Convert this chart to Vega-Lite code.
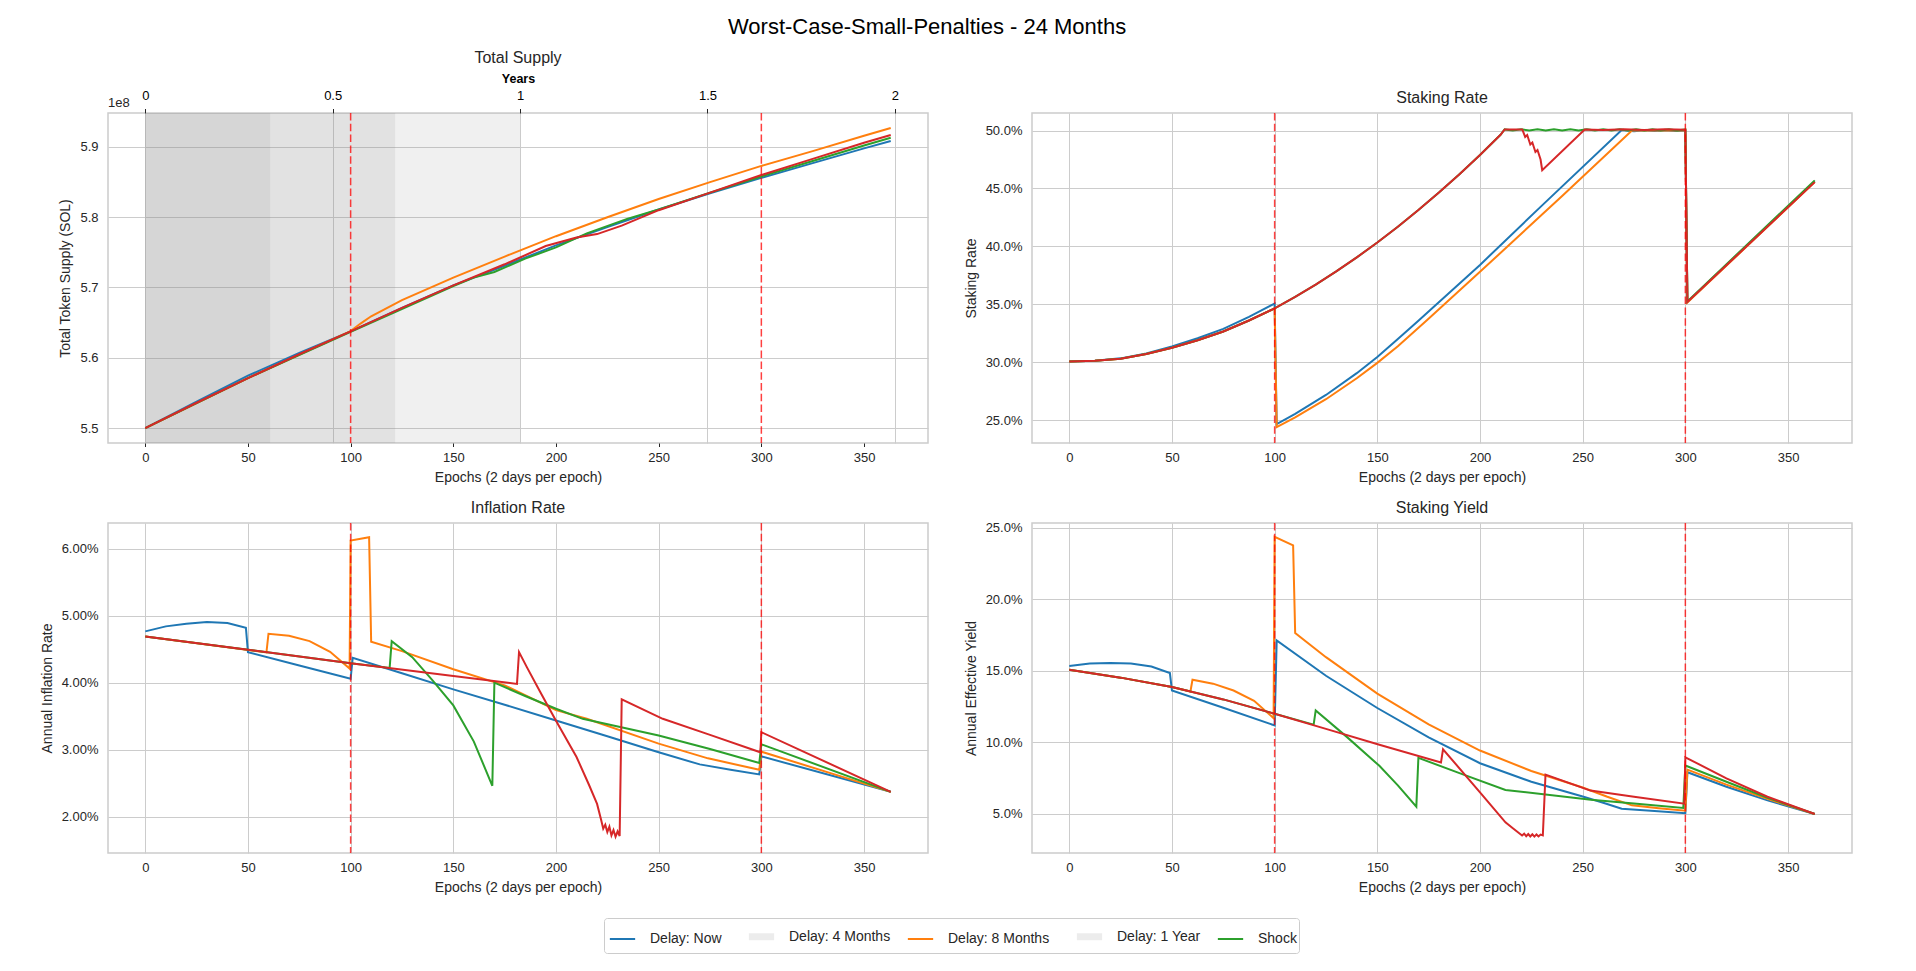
{
  "$schema": "https://vega.github.io/schema/vega-lite/v6.json",
  "background": "white",
  "padding": {"left": 39, "top": 16, "right": 10, "bottom": 10},
  "title": {
    "text": "Worst-Case-Small-Penalties - 24 Months",
    "fontSize": 22,
    "fontWeight": "normal",
    "color": "#000000",
    "anchor": "middle",
    "offset": 10,
    "dx": -19
  },
  "config": {
    "font": "Liberation Sans",
    "view": {"stroke": "#cccccc", "strokeWidth": 1.5},
    "line": {"strokeWidth": 2},
    "axis": {
      "domain": false,
      "grid": true,
      "gridColor": "#cccccc",
      "gridWidth": 1,
      "ticks": false,
      "tickSize": 0,
      "labelFontSize": 13,
      "labelColor": "#262626",
      "titleFontSize": 14,
      "titleFontWeight": "normal",
      "titleColor": "#262626"
    },
    "axisX": {"labelPadding": 8, "titlePadding": 6},
    "axisY": {"labelPadding": 10, "titlePadding": 7},
    "title": {"fontSize": 16, "fontWeight": "normal", "color": "#262626", "offset": 6}
  },
  "datasets": {
    "spans": [
      {"start": 0, "end": 0.3333},
      {"start": 0, "end": 0.6667},
      {"start": 0, "end": 1}
    ],
    "shocks": [{"e": 100}, {"e": 300}],
    "supply": [
      {"s": "Delay: Now", "e": 0, "v": 550000000},
      {"s": "Delay: Now", "e": 25, "v": 553750000},
      {"s": "Delay: Now", "e": 50, "v": 557450000},
      {"s": "Delay: Now", "e": 75, "v": 560700000},
      {"s": "Delay: Now", "e": 100, "v": 563750000},
      {"s": "Delay: Now", "e": 125, "v": 567100000},
      {"s": "Delay: Now", "e": 150, "v": 570300000},
      {"s": "Delay: Now", "e": 175, "v": 573100000},
      {"s": "Delay: Now", "e": 200, "v": 576000000},
      {"s": "Delay: Now", "e": 225, "v": 578600000},
      {"s": "Delay: Now", "e": 250, "v": 581100000},
      {"s": "Delay: Now", "e": 275, "v": 583400000},
      {"s": "Delay: Now", "e": 300, "v": 585600000},
      {"s": "Delay: Now", "e": 325, "v": 587700000},
      {"s": "Delay: Now", "e": 350, "v": 589800000},
      {"s": "Delay: Now", "e": 363, "v": 590850000},
      {"s": "Delay: 8 Months", "e": 0, "v": 550000000},
      {"s": "Delay: 8 Months", "e": 50, "v": 557100000},
      {"s": "Delay: 8 Months", "e": 100, "v": 563800000},
      {"s": "Delay: 8 Months", "e": 105, "v": 564900000},
      {"s": "Delay: 8 Months", "e": 110, "v": 565900000},
      {"s": "Delay: 8 Months", "e": 125, "v": 568200000},
      {"s": "Delay: 8 Months", "e": 150, "v": 571400000},
      {"s": "Delay: 8 Months", "e": 175, "v": 574400000},
      {"s": "Delay: 8 Months", "e": 200, "v": 577300000},
      {"s": "Delay: 8 Months", "e": 225, "v": 580000000},
      {"s": "Delay: 8 Months", "e": 250, "v": 582600000},
      {"s": "Delay: 8 Months", "e": 275, "v": 585000000},
      {"s": "Delay: 8 Months", "e": 300, "v": 587300000},
      {"s": "Delay: 8 Months", "e": 325, "v": 589400000},
      {"s": "Delay: 8 Months", "e": 350, "v": 591600000},
      {"s": "Delay: 8 Months", "e": 363, "v": 592700000},
      {"s": "Shock", "e": 0, "v": 550000000},
      {"s": "Shock", "e": 50, "v": 557100000},
      {"s": "Shock", "e": 100, "v": 563700000},
      {"s": "Shock", "e": 120, "v": 566300000},
      {"s": "Shock", "e": 150, "v": 570200000},
      {"s": "Shock", "e": 160, "v": 571400000},
      {"s": "Shock", "e": 170, "v": 572200000},
      {"s": "Shock", "e": 185, "v": 574100000},
      {"s": "Shock", "e": 200, "v": 575700000},
      {"s": "Shock", "e": 215, "v": 577700000},
      {"s": "Shock", "e": 235, "v": 579800000},
      {"s": "Shock", "e": 250, "v": 581100000},
      {"s": "Shock", "e": 275, "v": 583500000},
      {"s": "Shock", "e": 300, "v": 585800000},
      {"s": "Shock", "e": 325, "v": 588000000},
      {"s": "Shock", "e": 350, "v": 590200000},
      {"s": "Shock", "e": 363, "v": 591300000},
      {"s": "Unlabelled", "e": 0, "v": 550000000},
      {"s": "Unlabelled", "e": 25, "v": 553600000},
      {"s": "Unlabelled", "e": 50, "v": 557100000},
      {"s": "Unlabelled", "e": 75, "v": 560500000},
      {"s": "Unlabelled", "e": 100, "v": 563750000},
      {"s": "Unlabelled", "e": 125, "v": 567100000},
      {"s": "Unlabelled", "e": 150, "v": 570300000},
      {"s": "Unlabelled", "e": 175, "v": 573300000},
      {"s": "Unlabelled", "e": 182, "v": 574200000},
      {"s": "Unlabelled", "e": 195, "v": 575900000},
      {"s": "Unlabelled", "e": 210, "v": 577100000},
      {"s": "Unlabelled", "e": 220, "v": 577600000},
      {"s": "Unlabelled", "e": 232, "v": 578800000},
      {"s": "Unlabelled", "e": 250, "v": 581000000},
      {"s": "Unlabelled", "e": 275, "v": 583500000},
      {"s": "Unlabelled", "e": 300, "v": 586000000},
      {"s": "Unlabelled", "e": 325, "v": 588300000},
      {"s": "Unlabelled", "e": 350, "v": 590600000},
      {"s": "Unlabelled", "e": 363, "v": 591700000}
    ],
    "stake": [
      {"s": "Delay: Now", "e": 0, "v": 0.3006},
      {"s": "Delay: Now", "e": 12.5, "v": 0.3013},
      {"s": "Delay: Now", "e": 25, "v": 0.3033},
      {"s": "Delay: Now", "e": 37.5, "v": 0.3076},
      {"s": "Delay: Now", "e": 50, "v": 0.3136},
      {"s": "Delay: Now", "e": 62.5, "v": 0.3207},
      {"s": "Delay: Now", "e": 75, "v": 0.3288},
      {"s": "Delay: Now", "e": 87.5, "v": 0.3392},
      {"s": "Delay: Now", "e": 100, "v": 0.3506},
      {"s": "Delay: Now", "e": 101, "v": 0.2466},
      {"s": "Delay: Now", "e": 110, "v": 0.2553},
      {"s": "Delay: Now", "e": 125, "v": 0.2717},
      {"s": "Delay: Now", "e": 140, "v": 0.2905},
      {"s": "Delay: Now", "e": 150, "v": 0.3045},
      {"s": "Delay: Now", "e": 160, "v": 0.32},
      {"s": "Delay: Now", "e": 170, "v": 0.3357},
      {"s": "Delay: Now", "e": 200, "v": 0.384},
      {"s": "Delay: Now", "e": 230, "v": 0.435},
      {"s": "Delay: Now", "e": 269, "v": 0.5005},
      {"s": "Delay: Now", "e": 275, "v": 0.4995},
      {"s": "Delay: Now", "e": 280, "v": 0.5003},
      {"s": "Delay: Now", "e": 285, "v": 0.4996},
      {"s": "Delay: Now", "e": 290, "v": 0.5003},
      {"s": "Delay: Now", "e": 295, "v": 0.4996},
      {"s": "Delay: Now", "e": 300, "v": 0.5},
      {"s": "Delay: Now", "e": 301, "v": 0.352},
      {"s": "Delay: Now", "e": 363, "v": 0.456},
      {"s": "Delay: 8 Months", "e": 0, "v": 0.3006},
      {"s": "Delay: 8 Months", "e": 12.5, "v": 0.3012},
      {"s": "Delay: 8 Months", "e": 25, "v": 0.303},
      {"s": "Delay: 8 Months", "e": 37.5, "v": 0.307},
      {"s": "Delay: 8 Months", "e": 50, "v": 0.3125},
      {"s": "Delay: 8 Months", "e": 62.5, "v": 0.319},
      {"s": "Delay: 8 Months", "e": 75, "v": 0.3265},
      {"s": "Delay: 8 Months", "e": 87.5, "v": 0.336},
      {"s": "Delay: 8 Months", "e": 100, "v": 0.3465},
      {"s": "Delay: 8 Months", "e": 101, "v": 0.244},
      {"s": "Delay: 8 Months", "e": 110, "v": 0.2523},
      {"s": "Delay: 8 Months", "e": 125, "v": 0.268},
      {"s": "Delay: 8 Months", "e": 140, "v": 0.2861},
      {"s": "Delay: 8 Months", "e": 150, "v": 0.2994},
      {"s": "Delay: 8 Months", "e": 160, "v": 0.3138},
      {"s": "Delay: 8 Months", "e": 174, "v": 0.336},
      {"s": "Delay: 8 Months", "e": 200, "v": 0.378},
      {"s": "Delay: 8 Months", "e": 240, "v": 0.4435},
      {"s": "Delay: 8 Months", "e": 274, "v": 0.5},
      {"s": "Delay: 8 Months", "e": 300, "v": 0.5},
      {"s": "Delay: 8 Months", "e": 301, "v": 0.3515},
      {"s": "Delay: 8 Months", "e": 363, "v": 0.4555},
      {"s": "Shock", "e": 0, "v": 0.3006},
      {"s": "Shock", "e": 12.5, "v": 0.3012},
      {"s": "Shock", "e": 25, "v": 0.303},
      {"s": "Shock", "e": 37.5, "v": 0.307},
      {"s": "Shock", "e": 50, "v": 0.3125},
      {"s": "Shock", "e": 62.5, "v": 0.319},
      {"s": "Shock", "e": 75, "v": 0.3265},
      {"s": "Shock", "e": 87.5, "v": 0.336},
      {"s": "Shock", "e": 100, "v": 0.3465},
      {"s": "Shock", "e": 110, "v": 0.3564},
      {"s": "Shock", "e": 120, "v": 0.367},
      {"s": "Shock", "e": 130, "v": 0.3784},
      {"s": "Shock", "e": 140, "v": 0.3905},
      {"s": "Shock", "e": 150, "v": 0.4034},
      {"s": "Shock", "e": 160, "v": 0.417},
      {"s": "Shock", "e": 170, "v": 0.4314},
      {"s": "Shock", "e": 180, "v": 0.4465},
      {"s": "Shock", "e": 190, "v": 0.4624},
      {"s": "Shock", "e": 200, "v": 0.479},
      {"s": "Shock", "e": 210, "v": 0.4964},
      {"s": "Shock", "e": 212, "v": 0.501},
      {"s": "Shock", "e": 216, "v": 0.5},
      {"s": "Shock", "e": 220, "v": 0.5012},
      {"s": "Shock", "e": 224, "v": 0.5},
      {"s": "Shock", "e": 228, "v": 0.5012},
      {"s": "Shock", "e": 232, "v": 0.5},
      {"s": "Shock", "e": 236, "v": 0.5012},
      {"s": "Shock", "e": 240, "v": 0.5},
      {"s": "Shock", "e": 244, "v": 0.5012},
      {"s": "Shock", "e": 248, "v": 0.5},
      {"s": "Shock", "e": 252, "v": 0.5012},
      {"s": "Shock", "e": 256, "v": 0.5},
      {"s": "Shock", "e": 260, "v": 0.5012},
      {"s": "Shock", "e": 264, "v": 0.5},
      {"s": "Shock", "e": 268, "v": 0.5012},
      {"s": "Shock", "e": 272, "v": 0.5},
      {"s": "Shock", "e": 276, "v": 0.5012},
      {"s": "Shock", "e": 280, "v": 0.5},
      {"s": "Shock", "e": 284, "v": 0.5012},
      {"s": "Shock", "e": 288, "v": 0.5},
      {"s": "Shock", "e": 292, "v": 0.5012},
      {"s": "Shock", "e": 296, "v": 0.5},
      {"s": "Shock", "e": 300, "v": 0.501},
      {"s": "Shock", "e": 301, "v": 0.3525},
      {"s": "Shock", "e": 363, "v": 0.457},
      {"s": "Unlabelled", "e": 0, "v": 0.3006},
      {"s": "Unlabelled", "e": 12.5, "v": 0.3012},
      {"s": "Unlabelled", "e": 25, "v": 0.303},
      {"s": "Unlabelled", "e": 37.5, "v": 0.307},
      {"s": "Unlabelled", "e": 50, "v": 0.3125},
      {"s": "Unlabelled", "e": 62.5, "v": 0.319},
      {"s": "Unlabelled", "e": 75, "v": 0.3265},
      {"s": "Unlabelled", "e": 87.5, "v": 0.336},
      {"s": "Unlabelled", "e": 100, "v": 0.3465},
      {"s": "Unlabelled", "e": 110, "v": 0.3564},
      {"s": "Unlabelled", "e": 120, "v": 0.367},
      {"s": "Unlabelled", "e": 130, "v": 0.3784},
      {"s": "Unlabelled", "e": 140, "v": 0.3905},
      {"s": "Unlabelled", "e": 150, "v": 0.4034},
      {"s": "Unlabelled", "e": 160, "v": 0.417},
      {"s": "Unlabelled", "e": 170, "v": 0.4314},
      {"s": "Unlabelled", "e": 180, "v": 0.4465},
      {"s": "Unlabelled", "e": 190, "v": 0.4624},
      {"s": "Unlabelled", "e": 200, "v": 0.479},
      {"s": "Unlabelled", "e": 210, "v": 0.4964},
      {"s": "Unlabelled", "e": 212, "v": 0.501},
      {"s": "Unlabelled", "e": 220.6, "v": 0.501},
      {"s": "Unlabelled", "e": 222, "v": 0.4945},
      {"s": "Unlabelled", "e": 223, "v": 0.4962},
      {"s": "Unlabelled", "e": 224.5, "v": 0.488},
      {"s": "Unlabelled", "e": 225.5, "v": 0.4897},
      {"s": "Unlabelled", "e": 227, "v": 0.4815},
      {"s": "Unlabelled", "e": 228, "v": 0.4832},
      {"s": "Unlabelled", "e": 229.5, "v": 0.475},
      {"s": "Unlabelled", "e": 230.3, "v": 0.4658},
      {"s": "Unlabelled", "e": 251, "v": 0.501},
      {"s": "Unlabelled", "e": 260, "v": 0.5005},
      {"s": "Unlabelled", "e": 270, "v": 0.5012},
      {"s": "Unlabelled", "e": 280, "v": 0.5005},
      {"s": "Unlabelled", "e": 290, "v": 0.5012},
      {"s": "Unlabelled", "e": 300, "v": 0.5008},
      {"s": "Unlabelled", "e": 301, "v": 0.352},
      {"s": "Unlabelled", "e": 363, "v": 0.4555}
    ],
    "infl": [
      {"s": "Delay: Now", "e": 0, "v": 0.04765},
      {"s": "Delay: Now", "e": 10, "v": 0.0484},
      {"s": "Delay: Now", "e": 20, "v": 0.0488},
      {"s": "Delay: Now", "e": 30, "v": 0.04905},
      {"s": "Delay: Now", "e": 40, "v": 0.0489},
      {"s": "Delay: Now", "e": 49, "v": 0.0482},
      {"s": "Delay: Now", "e": 50, "v": 0.04456},
      {"s": "Delay: Now", "e": 75, "v": 0.04256},
      {"s": "Delay: Now", "e": 100, "v": 0.04057},
      {"s": "Delay: Now", "e": 101, "v": 0.0437},
      {"s": "Delay: Now", "e": 125, "v": 0.0414},
      {"s": "Delay: Now", "e": 150, "v": 0.039},
      {"s": "Delay: Now", "e": 175, "v": 0.0367},
      {"s": "Delay: Now", "e": 200, "v": 0.03435},
      {"s": "Delay: Now", "e": 225, "v": 0.032},
      {"s": "Delay: Now", "e": 250, "v": 0.0296},
      {"s": "Delay: Now", "e": 270, "v": 0.0278},
      {"s": "Delay: Now", "e": 285, "v": 0.027},
      {"s": "Delay: Now", "e": 299, "v": 0.0263},
      {"s": "Delay: Now", "e": 300, "v": 0.029},
      {"s": "Delay: Now", "e": 363, "v": 0.0237},
      {"s": "Delay: 8 Months", "e": 0, "v": 0.0469},
      {"s": "Delay: 8 Months", "e": 59, "v": 0.0445},
      {"s": "Delay: 8 Months", "e": 60, "v": 0.0473},
      {"s": "Delay: 8 Months", "e": 70, "v": 0.047},
      {"s": "Delay: 8 Months", "e": 80, "v": 0.0462},
      {"s": "Delay: 8 Months", "e": 90, "v": 0.0446},
      {"s": "Delay: 8 Months", "e": 99.5, "v": 0.0421},
      {"s": "Delay: 8 Months", "e": 100, "v": 0.0612},
      {"s": "Delay: 8 Months", "e": 109, "v": 0.0617},
      {"s": "Delay: 8 Months", "e": 110, "v": 0.0461},
      {"s": "Delay: 8 Months", "e": 125, "v": 0.0447},
      {"s": "Delay: 8 Months", "e": 150, "v": 0.042},
      {"s": "Delay: 8 Months", "e": 175, "v": 0.0396},
      {"s": "Delay: 8 Months", "e": 200, "v": 0.0359},
      {"s": "Delay: 8 Months", "e": 215, "v": 0.0346},
      {"s": "Delay: 8 Months", "e": 250, "v": 0.0309},
      {"s": "Delay: 8 Months", "e": 274, "v": 0.0287},
      {"s": "Delay: 8 Months", "e": 299, "v": 0.027},
      {"s": "Delay: 8 Months", "e": 300, "v": 0.0297},
      {"s": "Delay: 8 Months", "e": 363, "v": 0.0237},
      {"s": "Shock", "e": 0, "v": 0.0469},
      {"s": "Shock", "e": 50, "v": 0.0449},
      {"s": "Shock", "e": 100, "v": 0.0429},
      {"s": "Shock", "e": 119, "v": 0.0422},
      {"s": "Shock", "e": 120, "v": 0.0462},
      {"s": "Shock", "e": 130, "v": 0.0438},
      {"s": "Shock", "e": 140, "v": 0.0403},
      {"s": "Shock", "e": 150, "v": 0.0366},
      {"s": "Shock", "e": 160, "v": 0.0312},
      {"s": "Shock", "e": 169, "v": 0.0246},
      {"s": "Shock", "e": 170, "v": 0.04},
      {"s": "Shock", "e": 185, "v": 0.038},
      {"s": "Shock", "e": 200, "v": 0.0361},
      {"s": "Shock", "e": 213, "v": 0.0346},
      {"s": "Shock", "e": 250, "v": 0.0321},
      {"s": "Shock", "e": 275, "v": 0.0301},
      {"s": "Shock", "e": 299, "v": 0.028},
      {"s": "Shock", "e": 300, "v": 0.0308},
      {"s": "Shock", "e": 363, "v": 0.0237},
      {"s": "Unlabelled", "e": 0, "v": 0.0469},
      {"s": "Unlabelled", "e": 50, "v": 0.0449},
      {"s": "Unlabelled", "e": 100, "v": 0.0429},
      {"s": "Unlabelled", "e": 150, "v": 0.041},
      {"s": "Unlabelled", "e": 181, "v": 0.0398},
      {"s": "Unlabelled", "e": 182, "v": 0.04456},
      {"s": "Unlabelled", "e": 186, "v": 0.0422},
      {"s": "Unlabelled", "e": 192, "v": 0.0388},
      {"s": "Unlabelled", "e": 200, "v": 0.0343},
      {"s": "Unlabelled", "e": 210, "v": 0.0289},
      {"s": "Unlabelled", "e": 216, "v": 0.0248},
      {"s": "Unlabelled", "e": 220, "v": 0.0219},
      {"s": "Unlabelled", "e": 222, "v": 0.0195},
      {"s": "Unlabelled", "e": 223, "v": 0.0182},
      {"s": "Unlabelled", "e": 224, "v": 0.0188},
      {"s": "Unlabelled", "e": 225, "v": 0.0177},
      {"s": "Unlabelled", "e": 226, "v": 0.0185},
      {"s": "Unlabelled", "e": 227, "v": 0.0172},
      {"s": "Unlabelled", "e": 228, "v": 0.018},
      {"s": "Unlabelled", "e": 229, "v": 0.017},
      {"s": "Unlabelled", "e": 230, "v": 0.0178},
      {"s": "Unlabelled", "e": 231, "v": 0.0171},
      {"s": "Unlabelled", "e": 232, "v": 0.0375},
      {"s": "Unlabelled", "e": 252, "v": 0.0346},
      {"s": "Unlabelled", "e": 275, "v": 0.0322},
      {"s": "Unlabelled", "e": 299.5, "v": 0.0296},
      {"s": "Unlabelled", "e": 300, "v": 0.0326},
      {"s": "Unlabelled", "e": 363, "v": 0.0237}
    ],
    "yld": [
      {"s": "Delay: Now", "e": 0, "v": 0.1533},
      {"s": "Delay: Now", "e": 10, "v": 0.155},
      {"s": "Delay: Now", "e": 20, "v": 0.1555},
      {"s": "Delay: Now", "e": 30, "v": 0.155},
      {"s": "Delay: Now", "e": 40, "v": 0.153},
      {"s": "Delay: Now", "e": 49, "v": 0.1484},
      {"s": "Delay: Now", "e": 50, "v": 0.1362},
      {"s": "Delay: Now", "e": 75, "v": 0.1242},
      {"s": "Delay: Now", "e": 100, "v": 0.1118},
      {"s": "Delay: Now", "e": 101, "v": 0.1712},
      {"s": "Delay: Now", "e": 125, "v": 0.1465},
      {"s": "Delay: Now", "e": 150, "v": 0.124},
      {"s": "Delay: Now", "e": 175, "v": 0.1035},
      {"s": "Delay: Now", "e": 200, "v": 0.0854},
      {"s": "Delay: Now", "e": 225, "v": 0.0725},
      {"s": "Delay: Now", "e": 250, "v": 0.0622},
      {"s": "Delay: Now", "e": 260, "v": 0.0578},
      {"s": "Delay: Now", "e": 269, "v": 0.0537},
      {"s": "Delay: Now", "e": 285, "v": 0.052},
      {"s": "Delay: Now", "e": 300, "v": 0.0505},
      {"s": "Delay: Now", "e": 301, "v": 0.0791},
      {"s": "Delay: Now", "e": 320, "v": 0.069},
      {"s": "Delay: Now", "e": 340, "v": 0.0595},
      {"s": "Delay: Now", "e": 363, "v": 0.05},
      {"s": "Delay: 8 Months", "e": 0, "v": 0.1507},
      {"s": "Delay: 8 Months", "e": 25, "v": 0.1452},
      {"s": "Delay: 8 Months", "e": 50, "v": 0.1386},
      {"s": "Delay: 8 Months", "e": 59, "v": 0.1355},
      {"s": "Delay: 8 Months", "e": 60, "v": 0.1437},
      {"s": "Delay: 8 Months", "e": 70, "v": 0.141},
      {"s": "Delay: 8 Months", "e": 80, "v": 0.1362},
      {"s": "Delay: 8 Months", "e": 90, "v": 0.129},
      {"s": "Delay: 8 Months", "e": 99.5, "v": 0.1169},
      {"s": "Delay: 8 Months", "e": 100, "v": 0.2435},
      {"s": "Delay: 8 Months", "e": 109, "v": 0.2376},
      {"s": "Delay: 8 Months", "e": 110, "v": 0.1763},
      {"s": "Delay: 8 Months", "e": 125, "v": 0.1595},
      {"s": "Delay: 8 Months", "e": 150, "v": 0.134},
      {"s": "Delay: 8 Months", "e": 175, "v": 0.1125},
      {"s": "Delay: 8 Months", "e": 200, "v": 0.0943},
      {"s": "Delay: 8 Months", "e": 225, "v": 0.08},
      {"s": "Delay: 8 Months", "e": 250, "v": 0.0685},
      {"s": "Delay: 8 Months", "e": 262, "v": 0.062},
      {"s": "Delay: 8 Months", "e": 274, "v": 0.056},
      {"s": "Delay: 8 Months", "e": 287, "v": 0.054},
      {"s": "Delay: 8 Months", "e": 300, "v": 0.0523},
      {"s": "Delay: 8 Months", "e": 301, "v": 0.081},
      {"s": "Delay: 8 Months", "e": 320, "v": 0.0705},
      {"s": "Delay: 8 Months", "e": 340, "v": 0.0605},
      {"s": "Delay: 8 Months", "e": 363, "v": 0.05},
      {"s": "Shock", "e": 0, "v": 0.1507},
      {"s": "Shock", "e": 25, "v": 0.1452},
      {"s": "Shock", "e": 50, "v": 0.1386},
      {"s": "Shock", "e": 75, "v": 0.13},
      {"s": "Shock", "e": 100, "v": 0.12},
      {"s": "Shock", "e": 119, "v": 0.1124},
      {"s": "Shock", "e": 120, "v": 0.1223},
      {"s": "Shock", "e": 135, "v": 0.104},
      {"s": "Shock", "e": 151, "v": 0.0836},
      {"s": "Shock", "e": 160, "v": 0.07},
      {"s": "Shock", "e": 169, "v": 0.0551},
      {"s": "Shock", "e": 170, "v": 0.0892},
      {"s": "Shock", "e": 190, "v": 0.0785},
      {"s": "Shock", "e": 212.4, "v": 0.0668},
      {"s": "Shock", "e": 254, "v": 0.06},
      {"s": "Shock", "e": 275, "v": 0.0573},
      {"s": "Shock", "e": 299, "v": 0.0542},
      {"s": "Shock", "e": 300, "v": 0.0838},
      {"s": "Shock", "e": 320, "v": 0.0725},
      {"s": "Shock", "e": 340, "v": 0.0613},
      {"s": "Shock", "e": 363, "v": 0.05},
      {"s": "Unlabelled", "e": 0, "v": 0.1507},
      {"s": "Unlabelled", "e": 25, "v": 0.1452},
      {"s": "Unlabelled", "e": 50, "v": 0.1386},
      {"s": "Unlabelled", "e": 75, "v": 0.13},
      {"s": "Unlabelled", "e": 100, "v": 0.12},
      {"s": "Unlabelled", "e": 125, "v": 0.1094},
      {"s": "Unlabelled", "e": 151, "v": 0.0983},
      {"s": "Unlabelled", "e": 181, "v": 0.0859},
      {"s": "Unlabelled", "e": 182, "v": 0.0952},
      {"s": "Unlabelled", "e": 200, "v": 0.0651},
      {"s": "Unlabelled", "e": 212.4, "v": 0.0441},
      {"s": "Unlabelled", "e": 216, "v": 0.04},
      {"s": "Unlabelled", "e": 220.5, "v": 0.035},
      {"s": "Unlabelled", "e": 221.5, "v": 0.0362},
      {"s": "Unlabelled", "e": 222.5, "v": 0.0345},
      {"s": "Unlabelled", "e": 223.5, "v": 0.036},
      {"s": "Unlabelled", "e": 224.5, "v": 0.0343},
      {"s": "Unlabelled", "e": 225.5, "v": 0.0358},
      {"s": "Unlabelled", "e": 226.5, "v": 0.0342},
      {"s": "Unlabelled", "e": 227.5, "v": 0.0357},
      {"s": "Unlabelled", "e": 228.5, "v": 0.0343},
      {"s": "Unlabelled", "e": 229.5, "v": 0.0356},
      {"s": "Unlabelled", "e": 230.6, "v": 0.035},
      {"s": "Unlabelled", "e": 231.9, "v": 0.0775},
      {"s": "Unlabelled", "e": 253.8, "v": 0.0663},
      {"s": "Unlabelled", "e": 275, "v": 0.062},
      {"s": "Unlabelled", "e": 299.5, "v": 0.0572},
      {"s": "Unlabelled", "e": 300, "v": 0.0896},
      {"s": "Unlabelled", "e": 320, "v": 0.0748},
      {"s": "Unlabelled", "e": 340, "v": 0.062},
      {"s": "Unlabelled", "e": 363, "v": 0.05}
    ]
  },
  "columns": 2,
  "spacing": {"row": 80, "column": 104},
  "bounds": "flush",
  "concat": [
    {
      "width": 820,
      "height": 330,
      "title": "Total Supply",
      "resolve": {"scale": {"x": "independent"}, "axis": {"x": "independent"}},
      "layer": [
        {
          "data": {"name": "spans"},
          "mark": {"type": "rect", "color": "#808080", "opacity": 0.118},
          "encoding": {
            "x": {
              "field": "start",
              "type": "quantitative",
              "scale": {"domain": [-0.09945, 2.08849], "nice": false, "zero": false},
              "axis": {
                "orient": "top",
                "title": "Years",
                "values": [0, 0.5, 1, 1.5, 2],
                "format": "~g",
                "ticks": true,
                "tickSize": 4.5,
                "tickColor": "#262626",
                "labelColor": "#000000",
                "labelPadding": 6,
                "titleFontWeight": "bold",
                "titleFontSize": 12.5,
                "titleColor": "#000000",
                "titlePadding": 4.5
              }
            },
            "x2": {"field": "end"},
            "y": {"datum": 547870000, "type": "quantitative"},
            "y2": {"datum": 594830000}
          }
        },
        {
          "data": {"name": "supply"},
          "mark": "line",
          "encoding": {
            "x": {
              "field": "e",
              "type": "quantitative",
              "scale": {"domain": [-18.15, 381.15], "nice": false, "zero": false},
              "axis": {
                "title": "Epochs (2 days per epoch)",
                "values": [0, 50, 100, 150, 200, 250, 300, 350],
                "ticks": true,
                "tickSize": 3.5,
                "tickColor": "#262626",
                "labelPadding": 5
              }
            },
            "y": {
              "field": "v",
              "type": "quantitative",
              "scale": {"domain": [547870000, 594830000], "nice": false, "zero": false},
              "axis": {
                "title": "Total Token Supply (SOL)",
                "values": [550000000, 560000000, 570000000, 580000000, 590000000],
                "labelExpr": "format(datum.value / 100000000, '.1f')"
              }
            },
            "color": {
              "field": "s",
              "type": "nominal",
              "scale": {
                "domain": ["Delay: Now", "Delay: 4 Months", "Delay: 8 Months", "Delay: 1 Year", "Shock", "Unlabelled"],
                "range": ["#1f77b4", "#ececec", "#ff7f0e", "#ececec", "#2ca02c", "#d62728"]
              },
              "legend": {
                "orient": "none",
                "legendX": 496,
                "legendY": 805,
                "direction": "horizontal",
                "columns": 5,
                "title": null,
                "values": ["Delay: Now", "Delay: 4 Months", "Delay: 8 Months", "Delay: 1 Year", "Shock"],
                "symbolType": "stroke",
                "symbolSize": 640,
                "labelFontSize": 14,
                "labelColor": "#262626",
                "labelOffset": 11,
                "columnPadding": 12,
                "strokeColor": "#cccccc",
                "fillColor": "#ffffff",
                "padding": 2,
                "cornerRadius": 3
              }
            },
            "strokeWidth": {
              "field": "s",
              "type": "ordinal",
              "scale": {
                "type": "ordinal",
                "domain": ["Delay: Now", "Delay: 4 Months", "Delay: 8 Months", "Delay: 1 Year", "Shock", "Unlabelled"],
                "range": [2, 7, 2, 7, 2, 2]
              },
              "legend": {
                "orient": "none",
                "legendX": 496,
                "legendY": 805,
                "direction": "horizontal",
                "columns": 5,
                "title": null,
                "values": ["Delay: Now", "Delay: 4 Months", "Delay: 8 Months", "Delay: 1 Year", "Shock"],
                "symbolType": "stroke",
                "symbolSize": 640,
                "labelFontSize": 14,
                "labelColor": "#262626",
                "labelOffset": 11,
                "columnPadding": 12,
                "strokeColor": "#cccccc",
                "fillColor": "#ffffff",
                "padding": 2,
                "cornerRadius": 3
              }
            }
          }
        },
        {
          "data": {"name": "shocks"},
          "mark": {"type": "rule", "color": "red", "opacity": 0.75, "strokeWidth": 1.5, "strokeDash": [7.5, 3.3]},
          "encoding": {
            "x": {"field": "e", "type": "quantitative", "scale": {"domain": [-18.15, 381.15], "nice": false, "zero": false}, "axis": null}
          }
        },
        {
          "data": {"values": [{"label": "1e8"}]},
          "mark": {"type": "text", "align": "left", "baseline": "bottom", "dy": -3, "fontSize": 13, "color": "#262626"},
          "encoding": {
            "x": {"datum": -18.15, "type": "quantitative", "scale": {"domain": [-18.15, 381.15], "nice": false, "zero": false}, "axis": null},
            "y": {"datum": 594830000, "type": "quantitative"},
            "text": {"field": "label"}
          }
        }
      ]
    },
    {
      "width": 820,
      "height": 330,
      "title": "Staking Rate",
      "layer": [
        {
          "data": {"name": "stake"},
          "mark": "line",
          "encoding": {
            "x": {
              "field": "e",
              "type": "quantitative",
              "scale": {"domain": [-18.15, 381.15], "nice": false, "zero": false},
              "axis": {"title": "Epochs (2 days per epoch)", "values": [0, 50, 100, 150, 200, 250, 300, 350]}
            },
            "y": {
              "field": "v",
              "type": "quantitative",
              "scale": {"domain": [0.2302, 0.5152], "nice": false, "zero": false},
              "axis": {"title": "Staking Rate", "values": [0.25, 0.3, 0.35, 0.4, 0.45, 0.5], "format": ".1%"}
            },
            "color": {
              "field": "s",
              "type": "nominal",
              "scale": {
                "domain": ["Delay: Now", "Delay: 4 Months", "Delay: 8 Months", "Delay: 1 Year", "Shock", "Unlabelled"],
                "range": ["#1f77b4", "#ececec", "#ff7f0e", "#ececec", "#2ca02c", "#d62728"]
              }
            }
          }
        },
        {
          "data": {"name": "shocks"},
          "mark": {"type": "rule", "color": "red", "opacity": 0.75, "strokeWidth": 1.5, "strokeDash": [7.5, 3.3]},
          "encoding": {"x": {"field": "e", "type": "quantitative"}}
        }
      ]
    },
    {
      "width": 820,
      "height": 330,
      "title": "Inflation Rate",
      "layer": [
        {
          "data": {"name": "infl"},
          "mark": "line",
          "encoding": {
            "x": {
              "field": "e",
              "type": "quantitative",
              "scale": {"domain": [-18.15, 381.15], "nice": false, "zero": false},
              "axis": {"title": "Epochs (2 days per epoch)", "values": [0, 50, 100, 150, 200, 250, 300, 350]}
            },
            "y": {
              "field": "v",
              "type": "quantitative",
              "scale": {"domain": [0.01457, 0.06383], "nice": false, "zero": false},
              "axis": {"title": "Annual Inflation Rate", "values": [0.02, 0.03, 0.04, 0.05, 0.06], "format": ".2%"}
            },
            "color": {
              "field": "s",
              "type": "nominal",
              "scale": {
                "domain": ["Delay: Now", "Delay: 4 Months", "Delay: 8 Months", "Delay: 1 Year", "Shock", "Unlabelled"],
                "range": ["#1f77b4", "#ececec", "#ff7f0e", "#ececec", "#2ca02c", "#d62728"]
              }
            }
          }
        },
        {
          "data": {"name": "shocks"},
          "mark": {"type": "rule", "color": "red", "opacity": 0.75, "strokeWidth": 1.5, "strokeDash": [7.5, 3.3]},
          "encoding": {"x": {"field": "e", "type": "quantitative"}}
        }
      ]
    },
    {
      "width": 820,
      "height": 330,
      "title": "Staking Yield",
      "layer": [
        {
          "data": {"name": "yld"},
          "mark": "line",
          "encoding": {
            "x": {
              "field": "e",
              "type": "quantitative",
              "scale": {"domain": [-18.15, 381.15], "nice": false, "zero": false},
              "axis": {"title": "Epochs (2 days per epoch)", "values": [0, 50, 100, 150, 200, 250, 300, 350]}
            },
            "y": {
              "field": "v",
              "type": "quantitative",
              "scale": {"domain": [0.02273, 0.2532], "nice": false, "zero": false},
              "axis": {"title": "Annual Effective Yield", "values": [0.05, 0.1, 0.15, 0.2, 0.25], "format": ".1%"}
            },
            "color": {
              "field": "s",
              "type": "nominal",
              "scale": {
                "domain": ["Delay: Now", "Delay: 4 Months", "Delay: 8 Months", "Delay: 1 Year", "Shock", "Unlabelled"],
                "range": ["#1f77b4", "#ececec", "#ff7f0e", "#ececec", "#2ca02c", "#d62728"]
              }
            }
          }
        },
        {
          "data": {"name": "shocks"},
          "mark": {"type": "rule", "color": "red", "opacity": 0.75, "strokeWidth": 1.5, "strokeDash": [7.5, 3.3]},
          "encoding": {"x": {"field": "e", "type": "quantitative"}}
        }
      ]
    }
  ]
}
